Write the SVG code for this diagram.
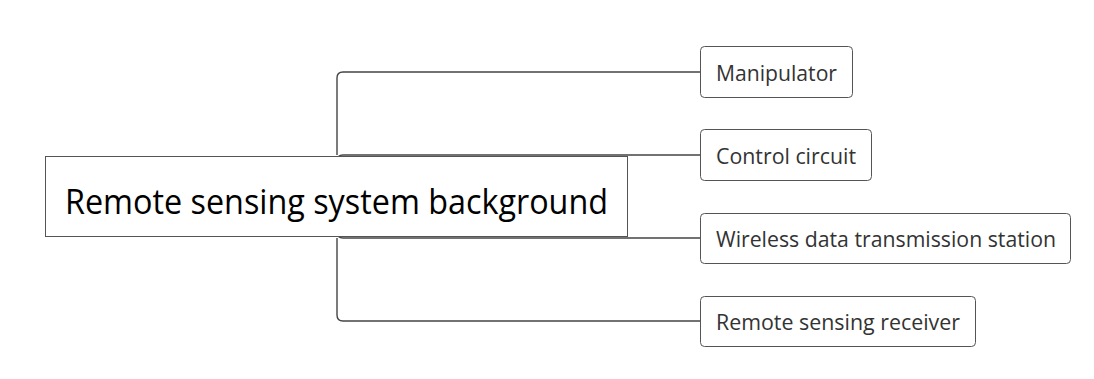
<svg xmlns="http://www.w3.org/2000/svg" width="1094" height="379" viewBox="0 0 1094 379">
  <style>
    .edge { fill: none; stroke: #444; stroke-width: 1.4; }
    .root-box { fill: #fff; stroke: #555; stroke-width: 1; }
    .child-box { fill: #fff; stroke: #555; stroke-width: 1; }
    .root-label { font-family: "Open Sans", "Noto Sans", sans-serif; font-size: 35px; fill: #000; }
    .child-label { font-family: "Open Sans", "Noto Sans", sans-serif; font-size: 21.5px; fill: #333; }
  </style>
  <rect width="1094" height="379" fill="#fff"/>

  <g id="connectors">
    <path class="edge" d="M337,155 L337,78 Q337,72 343,72 L700,72"/>
    <path class="edge" d="M337,161 Q337,155 343,155 L700,155"/>
    <path class="edge" d="M337,232 Q337,238 343,238 L700,238"/>
    <path class="edge" d="M337,238 L337,315 Q337,321 343,321 L700,321"/>
  </g>

  <g id="root">
    <rect class="root-box" x="45.5" y="156.5" width="582" height="80"/>
    <text class="root-label" x="65" y="214" textLength="543" lengthAdjust="spacingAndGlyphs">Remote sensing system background</text>
  </g>

  <g id="manipulator">
    <rect class="child-box" x="700.5" y="46.5" width="152" height="51" rx="4"/>
    <text class="child-label" x="716" y="81" textLength="121" lengthAdjust="spacingAndGlyphs">Manipulator</text>
  </g>

  <g id="control-circuit">
    <rect class="child-box" x="700.5" y="129.5" width="171" height="51" rx="4"/>
    <text class="child-label" x="716" y="164" textLength="140" lengthAdjust="spacingAndGlyphs">Control circuit</text>
  </g>

  <g id="wireless-station">
    <rect class="child-box" x="700.5" y="213.5" width="370" height="50" rx="4"/>
    <text class="child-label" x="716" y="247" textLength="340" lengthAdjust="spacingAndGlyphs">Wireless data transmission station</text>
  </g>

  <g id="rs-receiver">
    <rect class="child-box" x="700.5" y="296.5" width="275" height="50" rx="4"/>
    <text class="child-label" x="716" y="330" textLength="244" lengthAdjust="spacingAndGlyphs">Remote sensing receiver</text>
  </g>
</svg>
